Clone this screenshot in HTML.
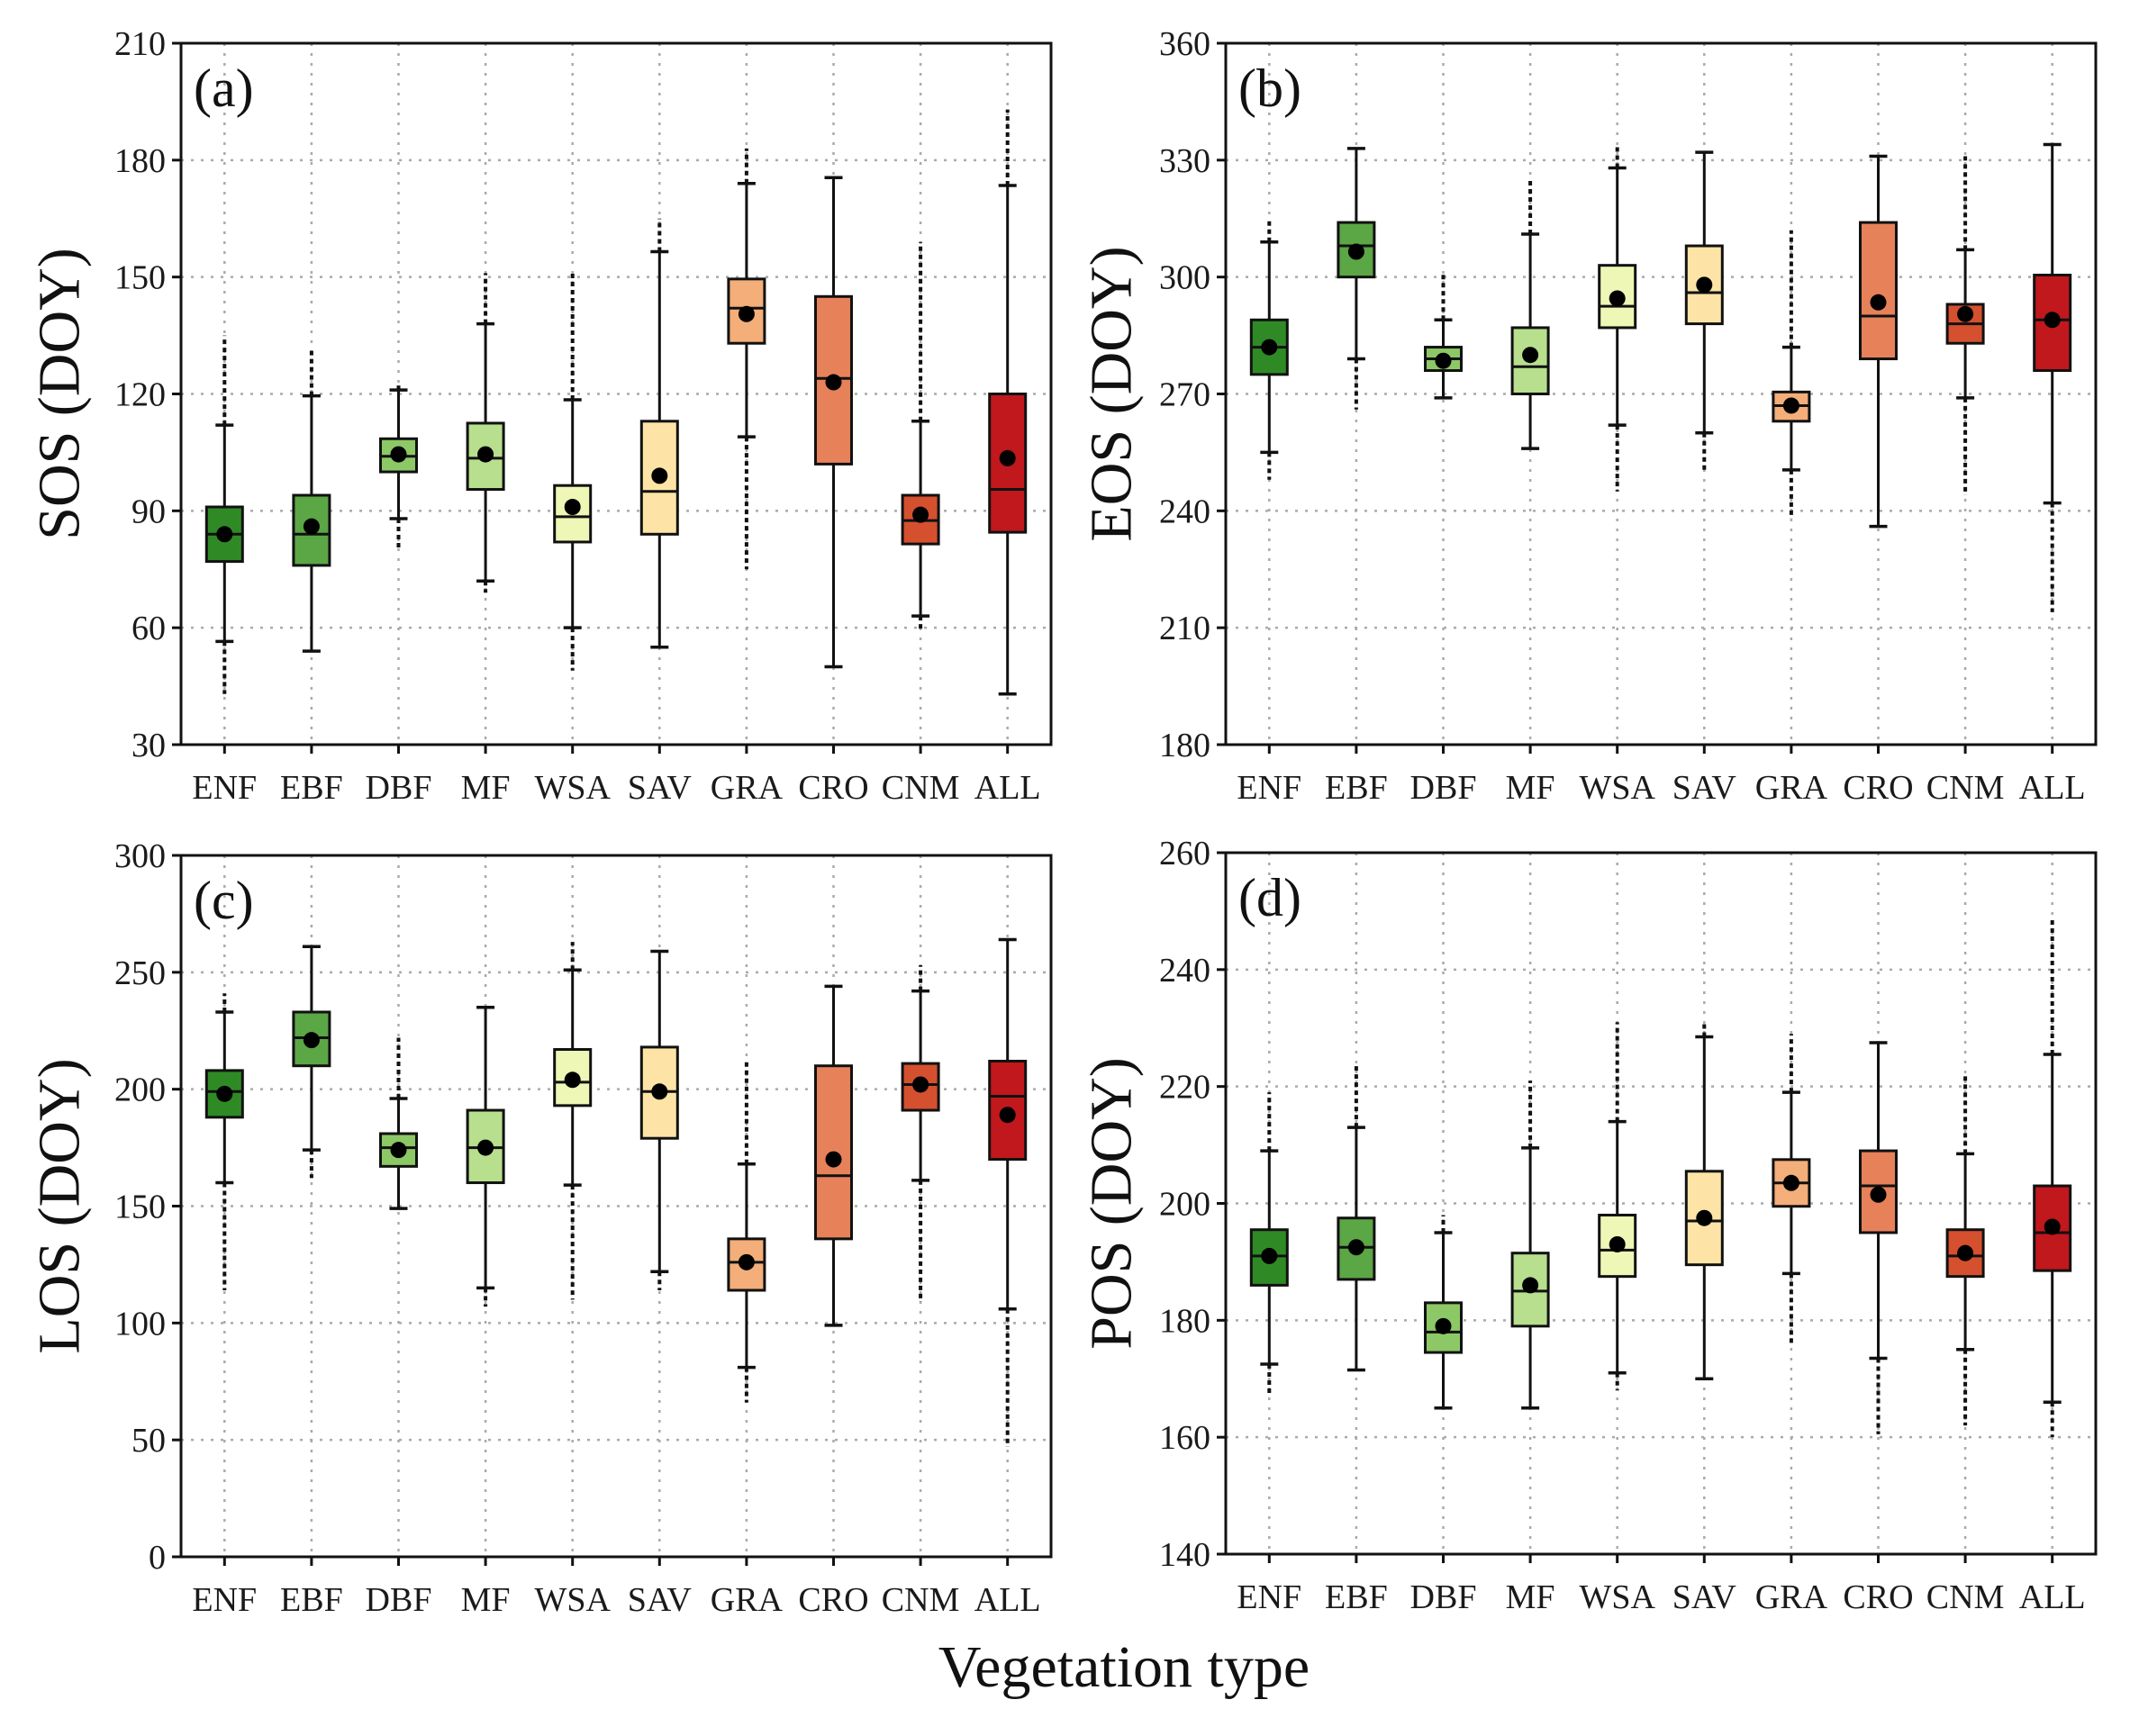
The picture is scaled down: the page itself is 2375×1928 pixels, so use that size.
<!DOCTYPE html>
<html><head><meta charset="utf-8">
<style>
html,body{margin:0;padding:0;background:#fff;}
svg{display:block;font-family:"Liberation Serif",serif;}
</style></head>
<body>
<svg id="fig" width="2375" height="1928" viewBox="0 0 2375 1928" xmlns="http://www.w3.org/2000/svg">
<text x="1248" y="1873" font-size="66" text-anchor="middle" fill="#111">Vegetation type</text>
</svg>
<script>
const categories = ["ENF","EBF","DBF","MF","WSA","SAV","GRA","CRO","CNM","ALL"];
const colors = ["#2f8a26","#5ba645","#8cc865","#b7df8d","#eef7b6","#fde4a6","#f4ae79","#e7815a","#d5502f","#c0181c"];

// Panel a: SOS
const sosQ1 = [77,76,100,95.5,82,84,133,102,81.5,84.5];
const sosMed = [84,84,104,103.5,88.5,95,142,124,87.5,95.5];
const sosQ3 = [91,94,108.5,112.5,96.5,113,149.5,145,94,120];
const sosMean = [84,86,104.5,104.5,91,99,140.5,123,89,103.5];
const sosLo = [56.5,54,88,72,60,55,109,50,63,43];
const sosHi = [112,119.5,121,138,118.5,156.5,174,175.5,113,173.5];
const sosOutHi = [135,132,123,151,151,165,183,null,159,193];
const sosOutLo = [43,null,80,69,49,null,75,null,59,null];
const sosTicks = [30,60,90,120,150,180,210];

// Panel b: EOS
const eosQ1 = [275,300,276,270,287,288,263,279,283,276];
const eosMed = [282,308,279,277,292.5,296,267,290,288,289];
const eosQ3 = [289,314,282,287,303,308,270.5,314,293,300.5];
const eosMean = [282,306.5,278.5,280,294.5,298,267,293.5,290.5,289];
const eosLo = [255,279,269,256,262,260,250.5,236,269,242];
const eosHi = [309,333,289,311,328,332,282,331,307,334];
const eosOutHi = [315,null,301,325,334,null,312,null,331,null];
const eosOutLo = [248,266,null,null,245,250,238,null,244,214];
const eosTicks = [180,210,240,270,300,330,360];

// Panel c: LOS
const losQ1 = [188,210,167,160,193,179,114,136,191,170];
const losMed = [199,222,175,175,203,199,126,163,202,197];
const losQ3 = [208,233,181,191,217,218,136,210,211,212];
const losMean = [198,221,174,175,204,199,126,170,202,189];
const losLo = [160,174,149,115,159,122,81,99,161,106];
const losHi = [233,261,196,235,251,259,168,244,242,264];
const losOutHi = [241,null,222,null,263,null,212,null,253,null];
const losOutLo = [114,162,null,107,110,114,66,null,109,47];
const losTicks = [0,50,100,150,200,250,300];

// Panel d: POS
const posQ1 = [186,187,174.5,179,187.5,189.5,199.5,195,187.5,188.5];
const posMed = [191,192.5,178,185,192,197,203.5,203,191,195];
const posQ3 = [195.5,197.5,183,191.5,198,205.5,207.5,209,195.5,203];
const posMean = [191,192.5,179,186,193,197.5,203.5,201.5,191.5,196];
const posLo = [172.5,171.5,165,165,171,170,188,173.5,175,166];
const posHi = [209,213,195,209.5,214,228.5,219,227.5,208.5,225.5];
const posOutHi = [219,223.5,198,221,231,231,229,null,222,249];
const posOutLo = [167,null,null,null,168,null,176,160.5,162,160];
const posTicks = [140,160,180,200,220,240,260];

const NS = "http://www.w3.org/2000/svg";
const svg = document.getElementById("fig");
function mk(tag, attrs, parent){
  const e = document.createElementNS(NS, tag);
  for (const k in attrs) e.setAttribute(k, attrs[k]);
  (parent||svg).appendChild(e);
  return e;
}

const panels = [
  {id:"a", title:"SOS (DOY)", L:201, T:48, R:1167, B:827, ticks:sosTicks, q1:sosQ1, med:sosMed, q3:sosQ3, mean:sosMean, lo:sosLo, hi:sosHi, oh:sosOutHi, ol:sosOutLo, tx:66},
  {id:"b", title:"EOS (DOY)", L:1361, T:48, R:2327, B:827, ticks:eosTicks, q1:eosQ1, med:eosMed, q3:eosQ3, mean:eosMean, lo:eosLo, hi:eosHi, oh:eosOutHi, ol:eosOutLo, tx:1234},
  {id:"c", title:"LOS (DOY)", L:201, T:950, R:1167, B:1729, ticks:losTicks, q1:losQ1, med:losMed, q3:losQ3, mean:losMean, lo:losLo, hi:losHi, oh:losOutHi, ol:losOutLo, tx:66},
  {id:"d", title:"POS (DOY)", L:1361, T:947, R:2327, B:1726, ticks:posTicks, q1:posQ1, med:posMed, q3:posQ3, mean:posMean, lo:posLo, hi:posHi, oh:posOutHi, ol:posOutLo, tx:1234}
];

panels.forEach(p => {
  const g = mk("g", {});
  
  
  const ymin = p.ticks[0], ymax = p.ticks[p.ticks.length-1];
  const y = v => p.B - (v - ymin) / (ymax - ymin) * (p.B - p.T);
  const slot = (p.R - p.L) / categories.length;
  const x = i => p.L + slot * (i + 0.5);

  p.ticks.forEach((t, k) => {
    if (k > 0 && k < p.ticks.length - 1) {
      const gl = mk("line", {x1:p.L, x2:p.R, y1:y(t), y2:y(t), stroke:"#aaa", "stroke-width":2.5, "stroke-dasharray":"3 8"}, g);
      
      
    }
  });
  categories.forEach((c, i) => {
    const gl = mk("line", {x1:x(i), x2:x(i), y1:p.T, y2:p.B, stroke:"#aaa", "stroke-width":2.5, "stroke-dasharray":"3 8"}, g);
    
    
  });

  categories.forEach((c, i) => {
    const bg = mk("g", {}, g);
    
    
    const cx = x(i), bw = 40, cw = 20;
    if (p.oh[i] != null) mk("line", {x1:cx, x2:cx, y1:y(p.hi[i]), y2:y(p.oh[i]), stroke:"#111", "stroke-width":4, "stroke-dasharray":"5 4"}, bg);
    if (p.ol[i] != null) mk("line", {x1:cx, x2:cx, y1:y(p.lo[i]), y2:y(p.ol[i]), stroke:"#111", "stroke-width":4, "stroke-dasharray":"5 4"}, bg);
    mk("line", {x1:cx, x2:cx, y1:y(p.hi[i]), y2:y(p.lo[i]), stroke:"#111", "stroke-width":3}, bg);
    mk("line", {x1:cx-cw/2, x2:cx+cw/2, y1:y(p.hi[i]), y2:y(p.hi[i]), stroke:"#111", "stroke-width":3.5}, bg);
    mk("line", {x1:cx-cw/2, x2:cx+cw/2, y1:y(p.lo[i]), y2:y(p.lo[i]), stroke:"#111", "stroke-width":3.5}, bg);
    mk("rect", {x:cx-bw/2, y:y(p.q3[i]), width:bw, height:y(p.q1[i])-y(p.q3[i]), fill:colors[i], stroke:"#111", "stroke-width":3}, bg);
    mk("line", {x1:cx-bw/2, x2:cx+bw/2, y1:y(p.med[i]), y2:y(p.med[i]), stroke:"#111", "stroke-width":3}, bg);
    mk("circle", {cx:cx, cy:y(p.mean[i]), r:9, fill:"#000"}, bg);
  });

  const fr = mk("rect", {x:p.L, y:p.T, width:p.R-p.L, height:p.B-p.T, fill:"none", stroke:"#111", "stroke-width":3}, g);
  
  

  p.ticks.forEach(t => {
    mk("line", {x1:p.L-10, x2:p.L, y1:y(t), y2:y(t), stroke:"#111", "stroke-width":3}, g);
    const tl = mk("text", {x:p.L-17, y:y(t)+13, "font-size":38, "text-anchor":"end", fill:"#1a1a1a"}, g);
    tl.textContent = t;
    
    
  });
  categories.forEach((c, i) => {
    mk("line", {x1:x(i), x2:x(i), y1:p.B, y2:p.B+10, stroke:"#111", "stroke-width":3}, g);
    const tl = mk("text", {x:x(i), y:p.B+60, "font-size":38, "text-anchor":"middle", fill:"#1a1a1a"}, g);
    tl.textContent = c;
    
    
  });
  const pl = mk("text", {x:p.L+14, y:p.T+70, "font-size":60, fill:"#111"}, g);
  pl.textContent = "(" + p.id + ")";
  
  
  const cy = (p.T + p.B) / 2;
  const yt = mk("text", {x:p.tx, y:cy, "font-size":66, "text-anchor":"middle", transform:"rotate(-90 " + p.tx + " " + cy + ")", "dominant-baseline":"central", fill:"#111"}, g);
  yt.textContent = p.title;
  
  
});
</script>
</body></html>
